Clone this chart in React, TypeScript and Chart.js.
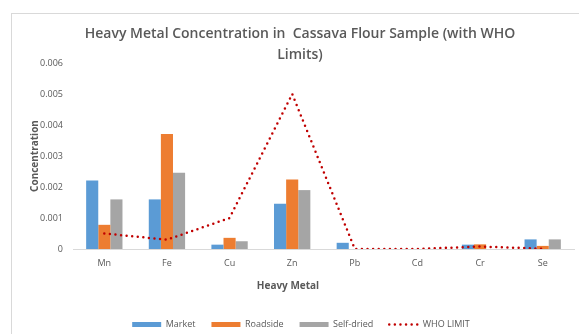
import React, { useEffect, useRef } from 'react';
import { Chart, registerables } from 'chart.js';

Chart.register(...registerables);

const categories = ['Mn', 'Fe', 'Cu', 'Zn', 'Pb', 'Cd', 'Cr', 'Se'];
const market = [0.00221, 0.0016, 0.00014, 0.00146, 0.0002, 0, 0.00014, 0.00031];
const roadside = [0.00078, 0.00371, 0.00036, 0.00224, 0, 0, 0.00015, 0.0001];
const selfDried = [0.0016, 0.00246, 0.00025, 0.0019, 0, 0, 0, 0.00031];
const whoLimit = [0.0005, 0.0003, 0.001, 0.005, 0, 0, 0.00008, 0.00001];
const seriesNames = ['Market', 'Roadside', 'Self-dried', 'WHO LIMIT'];
const yTickLabels = ['0', '0.001', '0.002', '0.003', '0.004', '0.005', '0.006'];
const titleLines = ['Heavy Metal Concentration in  Cassava Flour Sample (with WHO', 'Limits)'];
const xTitle = 'Heavy Metal';
const yTitle = 'Concentration';

const barColors = ['#5B9BD5', '#ED7D31', '#A5A5A5'];
const lineColor = '#C00000';
const textColor = '#595959';
const FONT = '"Open Sans", Lato, sans-serif';

export default function App() {
  const ref = useRef<HTMLCanvasElement>(null);

  useEffect(() => {
    const canvas = ref.current;
    if (!canvas) return;
    const chart = new Chart(canvas, {
      type: 'bar',
      data: {
        labels: categories,
        datasets: [
          { type: 'bar', label: seriesNames[0], data: market, backgroundColor: barColors[0], order: 1 },
          { type: 'bar', label: seriesNames[1], data: roadside, backgroundColor: barColors[1], order: 1 },
          { type: 'bar', label: seriesNames[2], data: selfDried, backgroundColor: barColors[2], order: 1 },
          {
            type: 'line',
            label: seriesNames[3],
            data: whoLimit,
            borderColor: lineColor,
            backgroundColor: lineColor,
            borderWidth: 2.5,
            borderDash: [0, 5.6],
            borderCapStyle: 'round',
            pointRadius: 0,
            tension: 0,
            fill: false,
            order: 0,
          } as any,
        ],
      },
      options: {
        responsive: false,
        animation: false,
        events: [],
        layout: { padding: { left: 28, right: 5, top: 63, bottom: 0 } },
        datasets: { bar: { barPercentage: 1, categoryPercentage: 0.58 } },
        scales: {
          x: {
            grid: { display: false, drawTicks: false },
            border: { display: true, color: '#D9D9D9', width: 1 },
            ticks: { color: textColor, font: { family: FONT, size: 9 }, padding: 9 },
            afterFit: (s: any) => { s.height = 55; },
          },
          y: {
            min: 0,
            max: 0.006,
            grid: { display: false, drawTicks: false },
            border: { display: false },
            ticks: {
              stepSize: 0.001,
              color: textColor,
              font: { family: FONT, size: 9 },
              padding: 10,
              callback: (_v: any, i: number) => yTickLabels[i],
            },
            title: {
              display: true,
              text: yTitle,
              color: textColor,
              font: { family: FONT, size: 10, weight: 'bold' },
              padding: { top: 1.5, bottom: 0 },
            },
            afterFit: (s: any) => { s.width = 45; },
          },
        },
        plugins: {
          title: { display: false },
          tooltip: { enabled: false },
          legend: {
            position: 'bottom',
            labels: {
              usePointStyle: true,
              pointStyleWidth: 29,
              boxHeight: 9,
              padding: 16,
              color: textColor,
              font: { family: FONT, size: 9 },
              generateLabels: (c: any) =>
                c.data.datasets.map((ds: any, i: number) => ({
                  text: ds.label,
                  datasetIndex: i,
                  pointStyle: 'line',
                  fillStyle: i < 3 ? barColors[i] : lineColor,
                  strokeStyle: i < 3 ? barColors[i] : lineColor,
                  lineWidth: i < 3 ? 5 : 2.5,
                  lineDash: i < 3 ? [] : [0, 5.6],
                  lineCap: i < 3 ? 'butt' : 'round',
                  fontColor: textColor,
                  hidden: false,
                })),
            },
          },
        },
      } as any,
    });
    return () => chart.destroy();
  }, []);

  return (
    <div style={{ position: 'fixed', left: 0, top: 0, width: 579, height: 334, overflow: 'hidden', background: '#fff' }}>
      <div style={{ position: 'absolute', left: 11, top: 13, width: 700, height: 500, border: '1px solid #D9D9D9' }} />
      <canvas ref={ref} width={579} height={339} style={{ position: 'absolute', left: 0, top: 0, width: 579, height: 339 }} />
      <div
        style={{
          position: 'absolute', left: 0, top: 22, width: 600, textAlign: 'center', whiteSpace: 'pre',
          fontFamily: FONT, fontWeight: 600, fontSize: 14, lineHeight: '21px', color: textColor,
        }}
      >
        {titleLines[0]}
        <br />
        {titleLines[1]}
      </div>
      <div
        style={{
          position: 'absolute', left: 188, top: 277, width: 200, textAlign: 'center',
          fontFamily: FONT, fontWeight: 'bold', fontSize: 10, lineHeight: '16px', color: textColor,
        }}
      >
        {xTitle}
      </div>
    </div>
  );
}
